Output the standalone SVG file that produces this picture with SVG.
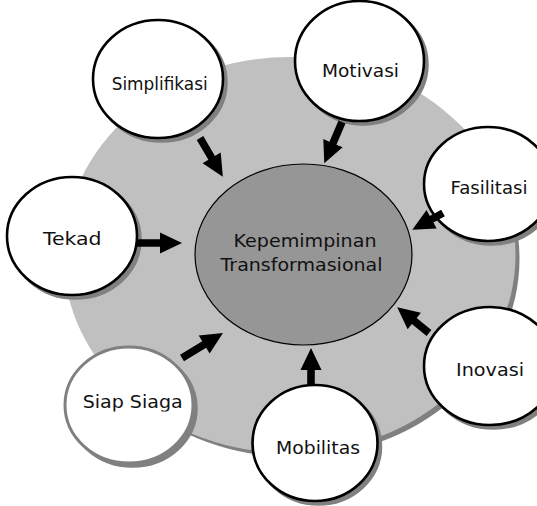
<svg xmlns="http://www.w3.org/2000/svg" width="537" height="506" viewBox="0 0 537 506">
<style>
.bgsh{fill:#808080}
.bg{fill:#c0c0c0}
.core{fill:#969696;stroke:#000;stroke-width:1.2}
.sh{fill:#808080;stroke:#808080;stroke-width:2.5}
.node{fill:#fff;stroke:#000;stroke-width:2.6}
.node.gray{stroke:#808080;stroke-width:3}
.lbl{font-family:"DejaVu Sans",Verdana,sans-serif;font-size:18.5px;fill:#111;text-anchor:middle}
.arr{fill:#000}
</style>
<defs>
<clipPath id="clipSiap"><rect x="60" y="340" width="150" height="71.5"/></clipPath>
</defs>
<rect width="537" height="506" fill="#fff"/>
<g id="background">
<ellipse class="bgsh" cx="293.5" cy="259" rx="226" ry="198"/>
<ellipse class="bg" cx="289.5" cy="255" rx="226" ry="198"/>
</g>
<g id="center">
<ellipse class="core" cx="303.5" cy="254.5" rx="108.5" ry="90.5"/>
<text class="lbl" x="305" y="247" textLength="143" lengthAdjust="spacingAndGlyphs">Kepemimpinan</text>
<text class="lbl" x="301.5" y="271" textLength="162" lengthAdjust="spacingAndGlyphs">Transformasional</text>
</g>
<g id="simplifikasi">
<ellipse class="sh" cx="161.5" cy="82.5" rx="65" ry="59"/>
<ellipse class="node" cx="158" cy="79" rx="65" ry="59"/>
<text class="lbl" x="159.7" y="90" textLength="96" lengthAdjust="spacingAndGlyphs">Simplifikasi</text>
</g>
<g id="motivasi">
<ellipse class="sh" cx="363" cy="64.5" rx="64.5" ry="60"/>
<ellipse class="node" cx="359.5" cy="61" rx="64.5" ry="60"/>
<text class="lbl" x="360.5" y="77" textLength="77" lengthAdjust="spacingAndGlyphs">Motivasi</text>
</g>
<g id="fasilitasi">
<ellipse class="sh" cx="491.5" cy="187.5" rx="64" ry="57"/>
<ellipse class="node" cx="488" cy="184" rx="64" ry="57"/>
<text class="lbl" x="489" y="194" textLength="77" lengthAdjust="spacingAndGlyphs">Fasilitasi</text>
</g>
<g id="inovasi">
<ellipse class="sh" cx="493.5" cy="369.5" rx="66" ry="59"/>
<ellipse class="node" cx="490" cy="366" rx="66" ry="59"/>
<text class="lbl" x="490" y="376" textLength="68" lengthAdjust="spacingAndGlyphs">Inovasi</text>
</g>
<g id="mobilitas">
<ellipse class="sh" cx="318.5" cy="446.5" rx="62.5" ry="58"/>
<ellipse class="node" cx="315" cy="443" rx="62.5" ry="58"/>
<text class="lbl" x="318" y="454" textLength="84" lengthAdjust="spacingAndGlyphs">Mobilitas</text>
</g>
<g id="siap-siaga">
<ellipse class="sh" cx="132.5" cy="408.5" rx="64" ry="58"/>
<ellipse class="node gray" cx="129" cy="405" rx="64" ry="58"/>
<text class="lbl" x="132.7" y="408" textLength="100" lengthAdjust="spacingAndGlyphs" clip-path="url(#clipSiap)">Siap Siaga</text>
</g>
<g id="tekad">
<ellipse class="sh" cx="75.5" cy="239.5" rx="65" ry="59"/>
<ellipse class="node" cx="72" cy="236" rx="65" ry="59"/>
<text class="lbl" x="72.3" y="245" textLength="58.7" lengthAdjust="spacingAndGlyphs">Tekad</text>
</g>
<g id="connectors">
<path class="arr" transform="translate(200,138) rotate(59.5)" d="M0,-3.8H23V-10.5L45,0L23,10.5V3.8H0Z"/>
<path class="arr" transform="translate(342,122) rotate(113.2)" d="M0,-3.8H23V-10.5L45,0L23,10.5V3.8H0Z"/>
<path class="arr" transform="translate(443,213) rotate(151.3)" d="M0,-3.8H13V-10.5L35,0L13,10.5V3.8H0Z"/>
<path class="arr" transform="translate(429,333) rotate(-140.9)" d="M0,-3.8H19V-10.5L41,0L19,10.5V3.8H0Z"/>
<path class="arr" transform="translate(311,386) rotate(-90)" d="M0,-3.8H16V-10.5L38,0L16,10.5V3.8H0Z"/>
<path class="arr" transform="translate(182,358) rotate(-31.4)" d="M0,-3.8H26V-10.5L48,0L26,10.5V3.8H0Z"/>
<path class="arr" transform="translate(137,243)" d="M0,-3.8H23V-10.5L45,0L23,10.5V3.8H0Z"/>
</g>
</svg>
